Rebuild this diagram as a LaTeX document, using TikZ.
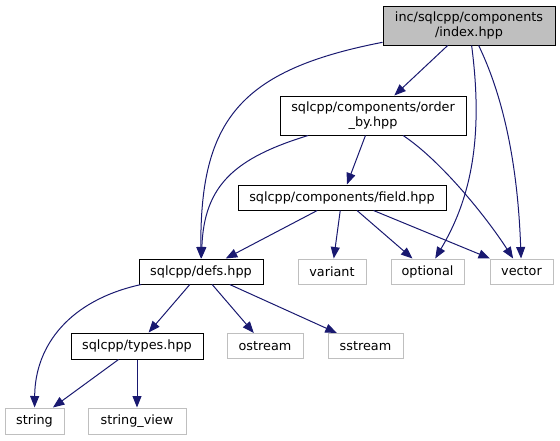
\documentclass[tikz,border=0pt]{standalone}
\usepackage{fontspec}
\setmainfont{DejaVu Sans}
\usetikzlibrary{arrows.meta}
\definecolor{edgeblue}{RGB}{25,25,112}
\definecolor{boxgray}{RGB}{191,191,191}

\begin{document}
\begin{tikzpicture}[x=1pt, y=-1pt,
                file/.style={draw=black, line width=1pt, inner sep=0pt, minimum height=25pt, align=center, font=\fontsize{12.8}{15}\selectfont},
                sysfile/.style={file, draw=boxgray},
                inc/.style={draw=edgeblue, line width=1pt, -{Triangle[length=11.5pt, width=9pt]}}]
                \useasboundingbox (0, 0) rectangle (560, 440);
                % Files:
                \node[file, fill=boxgray, minimum width=172pt, minimum height=39pt](index) at (469, 25.5){inc/sqlcpp/components\\/index.hpp};
                \node[file, minimum width=186pt, minimum height=39pt](orderby) at (373, 115.5){sqlcpp/components/order\\\_by.hpp};
                \node[file, minimum width=208pt](field) at (342, 197.5){sqlcpp/components/field.hpp};
                \node[file, minimum width=124pt](defs) at (201, 271.5){sqlcpp/defs.hpp};
                \node[sysfile, minimum width=68pt](variant) at (332, 271.5){variant};
                \node[sysfile, minimum width=73pt](optional) at (427.5, 271.5){optional};
                \node[sysfile, minimum width=63pt](vector) at (521.5, 271.5){vector};
                \node[file, minimum width=132pt, minimum height=26pt](types) at (137, 346){sqlcpp/types.hpp};
                \node[sysfile, minimum width=76pt](ostream) at (265, 346){ostream};
                \node[sysfile, minimum width=75pt](sstream) at (365.5, 346){sstream};
                \node[sysfile, minimum width=59pt, minimum height=26pt](string) at (34.5, 421){string};
                \node[sysfile, minimum width=98pt, minimum height=26pt](stringview) at (137, 421){string\_view};
                % Includes:
                \draw[inc] (index) -- (orderby);
                \draw[inc] (index) .. controls (240, 70) and (200, 120) .. (defs);
                \draw[inc] (index) .. controls (484, 140) and (470, 200) .. (optional);
                \draw[inc] (index) .. controls (505, 100) and (518, 170) .. (vector);
                \draw[inc] (orderby) -- (field);
                \draw[inc] (orderby) .. controls (235, 158) and (204, 185) .. (defs);
                \draw[inc] (orderby) .. controls (440, 160) and (485, 215) .. (vector);
                \draw[inc] (field) -- (defs);
                \draw[inc] (field) -- (variant);
                \draw[inc] (field) -- (optional);
                \draw[inc] (field) -- (vector);
                \draw[inc] (defs) -- (types);
                \draw[inc] (defs) -- (ostream);
                \draw[inc] (defs) -- (sstream);
                \draw[inc] (defs) .. controls (70, 300) and (35, 345) .. (string);
                \draw[inc] (types) -- (string);
                \draw[inc] (types) -- (stringview);
            \end{tikzpicture}
\end{document}
